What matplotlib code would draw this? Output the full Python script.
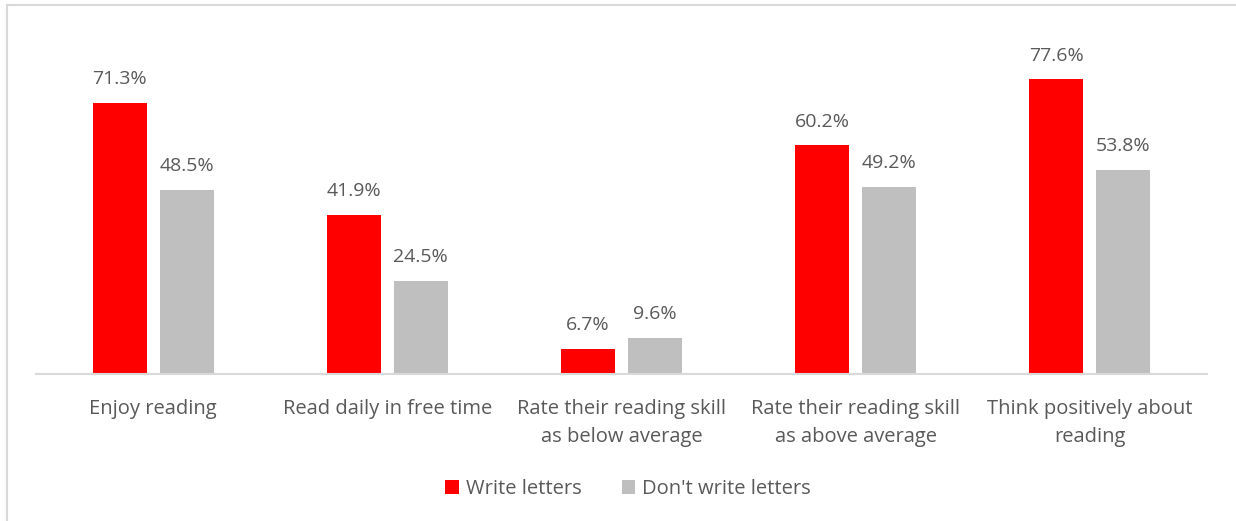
import numpy as np
import matplotlib.pyplot as plt
from matplotlib.patches import Rectangle

categories = ['Enjoy reading', 'Read daily in free time',
              'Rate their reading skill\nas below average',
              'Rate their reading skill\nas above average',
              'Think positively about\nreading']
write_letters = [71.3, 41.9, 6.7, 60.2, 77.6]
dont_write = [48.5, 24.5, 9.6, 49.2, 53.8]

red = '#ff0000'
grey = '#bfbfbf'
txt = '#595959'
plt.rcParams['font.family'] = ['Open Sans', 'DejaVu Sans']

fig = plt.figure(figsize=(12.36, 5.21), dpi=100)
W, H = 1236, 521
ax = fig.add_axes([36 / W, 1 - 374 / H, (1207 - 36) / W, (374 - 32) / H])

x = np.arange(len(categories))
w = 0.23
off = 0.143
b1 = ax.bar(x - off, write_letters, w, color=red, label='Write letters')
b2 = ax.bar(x + off, dont_write, w, color=grey, label="Don't write letters")

for bars, vals in ((b1, write_letters), (b2, dont_write)):
    for b, v in zip(bars, vals):
        ax.annotate(f'{v:.1f}%', (b.get_x() + b.get_width() / 2, v),
                    xytext=(0, 10.5), textcoords='offset points',
                    ha='center', va='bottom', fontsize=14, color=txt)

ax.set_xlim(-0.5, len(categories) - 0.5)
ax.set_ylim(0, 90)
ax.set_yticks([])
ax.set_xticks(x)
ax.set_xticklabels(categories, fontsize=14.5, color=txt, linespacing=1.55)
ax.tick_params(axis='x', length=0, pad=18)
for s in ('top', 'right', 'left'):
    ax.spines[s].set_visible(False)
ax.spines['bottom'].set_color('#d9d9d9')
ax.spines['bottom'].set_linewidth(1.5)

fig.legend(handles=[b1, b2], loc='center', bbox_to_anchor=(628 / W, 1 - 489 / H),
           ncol=2, frameon=False, fontsize=14.5, labelcolor=txt,
           handlelength=0.65, handleheight=0.65, handletextpad=0.35,
           columnspacing=2.0)

# outer chart frame (partially clipped, as in the source)
fig.patches.append(Rectangle((6.5 / W, -0.1), 1.2, 1 - 5 / H + 0.1,
                             transform=fig.transFigure, fill=False,
                             edgecolor='#d9d9d9', linewidth=1.5))

fig.savefig('out.png', dpi=100)
